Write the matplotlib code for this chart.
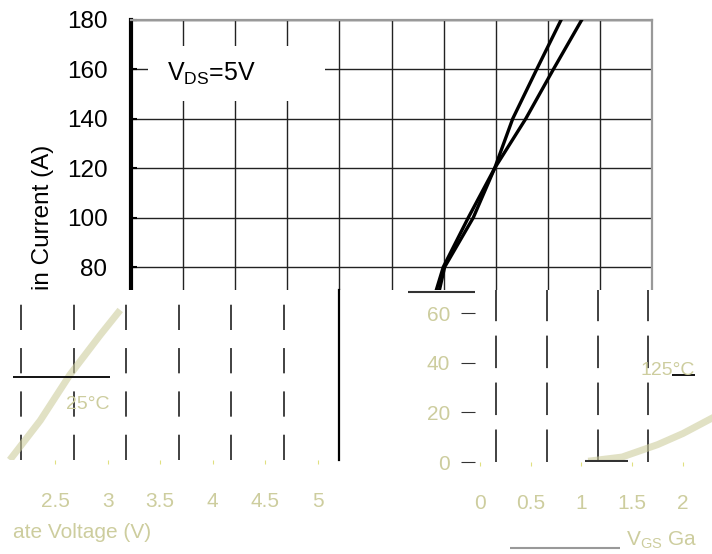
import numpy as np
import matplotlib
matplotlib.use('Agg')
import matplotlib.pyplot as plt
from matplotlib.patches import Rectangle

plt.rcParams['font.family'] = ['Liberation Sans', 'DejaVu Sans']
plt.rcParams['mathtext.fontset'] = 'custom'
plt.rcParams['mathtext.rm'] = 'Liberation Sans'
plt.rcParams['mathtext.it'] = 'Liberation Sans'

# curva de transferencia (parte nitida arriba)
id_amp = [70.7, 80, 100, 120, 140, 160, 180]
vgs_25c = [2.96, 3.01, 3.285, 3.49, 3.663, 3.893, 4.127]
vgs_125c = [2.93, 2.997, 3.237, 3.49, 3.788, 4.053, 4.325]
id_ticks = [80, 100, 120, 140, 160, 180]

# fragmento inferior izquierdo
frag_vgs_ticks = [2.5, 3, 3.5, 4, 4.5, 5]
frag_vgs_labels = ['2.5', '3', '3.5', '4', '4.5', '5']
frag_25c_v = [2.07, 2.36, 2.64, 2.93, 3.12]
frag_25c_i = [0, 16, 34.4, 50.6, 60.7]

# fragmento inferior derecho (diodo)
is_ticks = [0, 20, 40, 60]
vsd_ticks = [0, 0.5, 1, 1.5, 2]
vsd_labels = ['0', '0.5', '1', '1.5', '2']
frag_125c_v = [1.1, 1.4, 1.75, 2.0, 2.3]
frag_125c_i = [0.5, 2, 7, 11.5, 18]

W, H = 712, 554
FAINT = '#cdcd9e'


def caja(l, t, r, b):
    return [l / W, 1 - b / H, (r - l) / W, (b - t) / H]


fig = plt.figure(figsize=(W / 100, H / 100), dpi=100)

# --- grafica principal ---
ax = fig.add_axes(caja(131, 20, 652, 290))
ax.plot(vgs_25c, id_amp, color='black', lw=2.4, zorder=4)
ax.plot(vgs_125c, id_amp, color='black', lw=2.4, zorder=4)
ax.set_xlim(0, 5)
ax.set_ylim(70.7, 180)
ax.set_xticks(np.arange(0, 5.01, 0.5))
ax.set_yticks(id_ticks)
ax.set_xticklabels([])
ax.grid(True, color='#222222', lw=1.0)
ax.tick_params(axis='y', direction='in', length=4, width=1.5, pad=17, labelsize=17.5)
ax.tick_params(axis='x', length=0)
ax.spines['left'].set_linewidth(3)
ax.spines['bottom'].set_visible(False)
for s in ['top', 'right']:
    ax.spines[s].set_color('#999999')
    ax.spines[s].set_linewidth(1.6)
ax.add_patch(Rectangle((0.033, 0.70), 0.34, 0.205, transform=ax.transAxes,
                       facecolor='white', edgecolor='none', zorder=3))
ax.text(0.069, 0.80, r'V$_{\mathregular{DS}}$=5V', transform=ax.transAxes,
        fontsize=18, va='center', zorder=5)
ax.text(-0.168, 0.0, 'in Current (A)', transform=ax.transAxes, rotation=90,
        ha='center', va='bottom', fontsize=17.5)

# --- fragmento inferior izquierdo ---
ax2 = fig.add_axes(caja(0, 290, 339, 460))
ax2.set_xlim(1.977, 5.20)
ax2.set_ylim(0, 68.8)
for v in frag_vgs_ticks:
    ax2.axvline(v - 0.323, color='#333333', lw=1.3, dashes=(14, 10))
ax2.plot(frag_25c_v, frag_25c_i, color=FAINT, lw=5, alpha=0.6, solid_capstyle='butt')
ax2.hlines(33.6, 2.10, 3.02, color='black', lw=1.3)
ax2.text(2.6, 22.3, '25°C', color=FAINT, fontsize=14, va='center')
ax2.set_xticks(frag_vgs_ticks)
ax2.set_xticklabels(frag_vgs_labels, color=FAINT, fontsize=15)
ax2.set_yticks([])
ax2.tick_params(axis='x', length=3, color='#e0e080', pad=20)
for s in ['top', 'left', 'bottom']:
    ax2.spines[s].set_visible(False)
ax2.spines['right'].set_linewidth(1.6)
fig.text(13 / W, 1 - 533 / H, 'ate Voltage (V)', color=FAINT, fontsize=15, va='center')

# --- fragmento inferior derecho ---
ax3 = fig.add_axes(caja(475, 290, 712, 462))
ax3.set_xlim(-0.049, 2.286)
ax3.set_ylim(0, 69.4)
for v in vsd_ticks[:-1]:
    ax3.axvline(v + 0.16, color='#333333', lw=1.3, dashes=(18, 8))
ax3.plot(frag_125c_v, frag_125c_i, color=FAINT, lw=5, alpha=0.6)
ax3.hlines(0.4, 1.03, 1.46, color='#333333', lw=1.5)
ax3.hlines(35, 1.89, 2.12, color='black', lw=1.3)
ax3.hlines(68.5, -0.71, -0.05, color='#333333', lw=1.5, clip_on=False)
ax3.hlines(-34.7, 0.3, 1.38, color='#999999', lw=1.5, clip_on=False)
ax3.text(1.58, 37, '125°C', color=FAINT, fontsize=14, va='center')
ax3.set_xticks(vsd_ticks)
ax3.set_xticklabels(vsd_labels, color=FAINT, fontsize=15)
ax3.set_yticks(is_ticks)
ax3.set_yticklabels([str(t) for t in is_ticks], color=FAINT, fontsize=15)
ax3.tick_params(axis='x', length=3, color='#e0e080', pad=20)
ax3.tick_params(axis='y', length=10, color='#333333', pad=8)
for s in ['top', 'left', 'bottom', 'right']:
    ax3.spines[s].set_visible(False)
fig.text(626 / W, 1 - 540 / H, r'V$_{\mathregular{GS}}$ Ga', color=FAINT, fontsize=15, va='center')

fig.savefig('out.png', dpi=100, facecolor='white')
